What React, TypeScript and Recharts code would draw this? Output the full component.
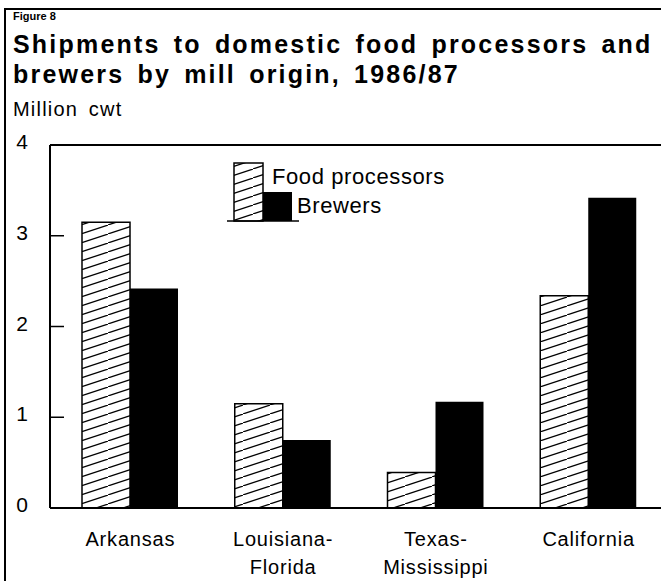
import { BarChart, Bar, XAxis, YAxis, ReferenceLine } from "recharts";

const MILLS = ["Arkansas", "Louisiana-\nFlorida", "Texas-\nMississippi", "California"];
const FOOD = [3.15, 1.15, 0.39, 2.34];
const BREWERS = [2.42, 0.75, 1.17, 3.42];
const Y_TICKS = [0, 1, 2, 3, 4];

const data = MILLS.map((mill, i) => ({ mill, food: FOOD[i], brewers: BREWERS[i] }));

const FONT = "'Liberation Sans', Arial, sans-serif";

// diagonal "////" hatch, rising ~18deg, 9px apart vertically
function Hatch({ id }: { id: string }) {
  return (
    <pattern id={id} patternUnits="userSpaceOnUse" width={27} height={9}>
      <rect width={27} height={9} fill="#fff" />
      <line x1={-27} y1={18} x2={54} y2={-9} stroke="#000" strokeWidth={1.2} />
    </pattern>
  );
}

// ── ticks ────────────────────────────────────────────────────────
function YTick({ y, payload }: any) {
  const v = payload.value;
  return (
    <g>
      <text x={22} y={y} dy={4} textAnchor="middle" fontSize={21} fontFamily={FONT} fill="#000">
        {v}
      </text>
      {v > 0 && v < 4 && <line x1={50} x2={64} y1={y} y2={y} stroke="#000" strokeWidth={1.5} />}
    </g>
  );
}

function XTick({ x, y, payload }: any) {
  const lines = String(payload.value).split("\n");
  return (
    <text x={x} y={y} textAnchor="middle" fontSize={20} fontFamily={FONT} fill="#000" letterSpacing={0.8}>
      {lines.map((l, i) => (
        <tspan key={i} x={x} dy={i === 0 ? 38 : 28}>
          {l}
        </tspan>
      ))}
    </text>
  );
}

// ── legend ───────────────────────────────────────────────────────
function LegendBox() {
  return (
    <svg width={240} height={66} style={{ position: "absolute", left: 226, top: 160 }}>
      <defs>
        <Hatch id="hatchLeg" />
      </defs>
      <rect x={8} y={3} width={29} height={58} fill="url(#hatchLeg)" stroke="#000" strokeWidth={1.5} />
      <rect x={37} y={32} width={29} height={29} fill="#000" />
      <line x1={1} x2={73} y1={61} y2={61} stroke="#000" strokeWidth={1.5} />
      <text x={46} y={24} fontSize={22} fontFamily={FONT} letterSpacing={0.6}>Food processors</text>
      <text x={71} y={53} fontSize={22} fontFamily={FONT} letterSpacing={0.6}>Brewers</text>
    </svg>
  );
}

export default function App() {
  return (
    <div style={{ position: "absolute", left: 0, top: 0, width: 661, height: 581, background: "#fff", fontFamily: FONT }}>
      {/* figure frame */}
      <div style={{ position: "absolute", left: 4, top: 8, right: 0, bottom: 0, borderLeft: "2px solid #000", borderTop: "2px solid #000" }} />
      <div style={{ position: "absolute", left: 13, top: 10, fontSize: 11, fontWeight: 700 }}>Figure 8</div>
      <div
        style={{
          position: "absolute",
          left: 13,
          top: 29,
          fontSize: 25,
          lineHeight: "30px",
          fontWeight: 700,
          whiteSpace: "nowrap",
          letterSpacing: 2.2,
          wordSpacing: 4,
        }}
      >
        Shipments to domestic food processors and
        <br />
        brewers by mill origin, 1986/87
      </div>
      <div style={{ position: "absolute", left: 13, top: 98, fontSize: 20, letterSpacing: 1.2, wordSpacing: 4 }}>Million cwt</div>

      <BarChart
        width={661}
        height={581}
        data={data}
        margin={{ top: 145, right: 0, left: 0, bottom: 13 }}
        barGap={0}
        barSize={48}
      >
        <defs>
          <Hatch id="hatch" />
        </defs>
        <XAxis
          dataKey="mill"
          height={60}
          axisLine={{ stroke: "#000", strokeWidth: 2 }}
          tickLine={false}
          tickSize={0}
          tickMargin={0}
          interval={0}
          padding={{ left: 4, right: -4 }}
          tick={<XTick />}
        />
        <YAxis
          width={50}
          domain={[0, 4]}
          ticks={Y_TICKS}
          axisLine={{ stroke: "#000", strokeWidth: 2 }}
          tickLine={false}
          tick={<YTick />}
        />
        <ReferenceLine y={4} stroke="#000" strokeWidth={2} />
        <Bar isAnimationActive={false} dataKey="food" name="Food processors" fill="url(#hatch)" stroke="#000" strokeWidth={1.5} />
        <Bar isAnimationActive={false} dataKey="brewers" name="Brewers" fill="#000" />
      </BarChart>
      <LegendBox />
    </div>
  );
}
